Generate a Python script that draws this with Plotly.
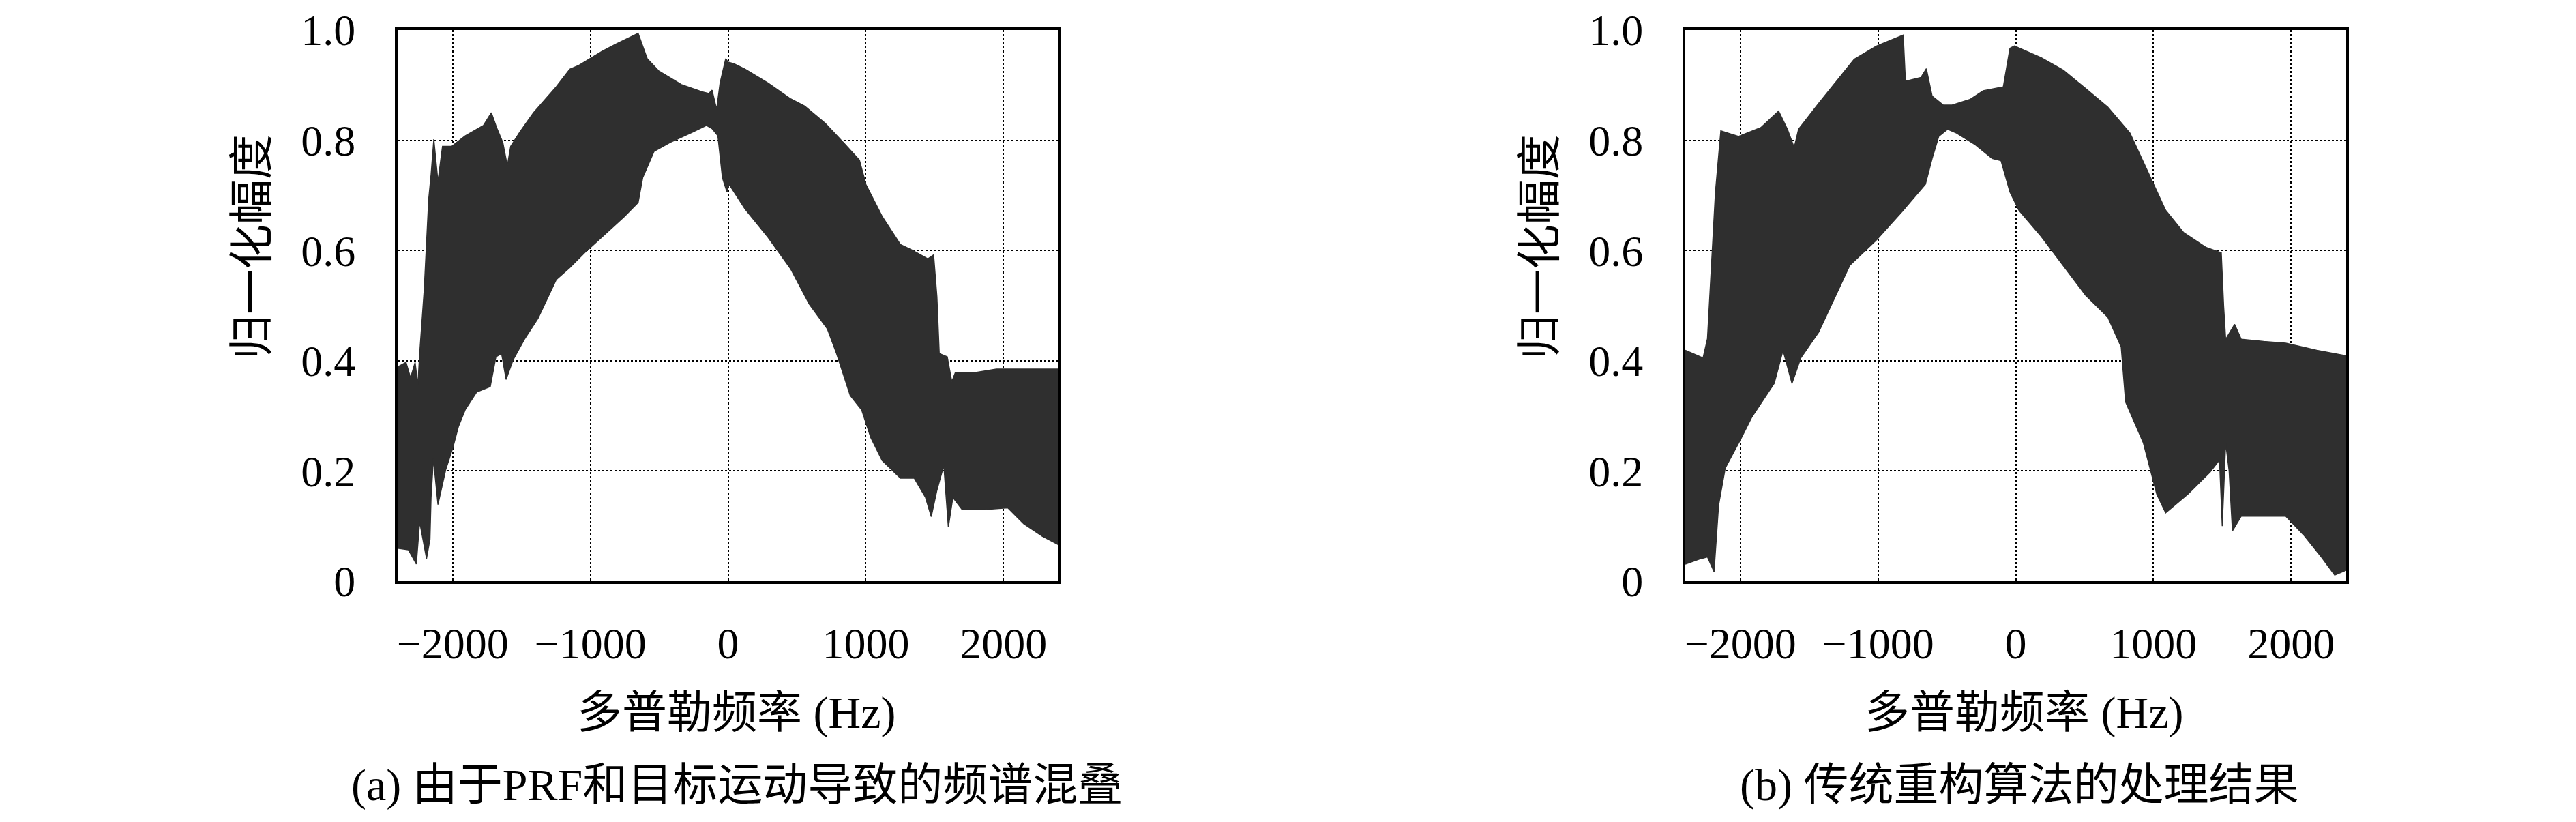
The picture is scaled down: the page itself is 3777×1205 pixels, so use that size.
import plotly.graph_objects as go

# ---------------- data ----------------
# Panel (a): upper / lower envelope of the aliased spectrum (Hz, normalised amplitude)
a_up_f = [-2405, -2339, -2306, -2273, -2253, -2240, -2207, -2174, -2157, -2137, -2107, -2074, -2008,
          -1909, -1777, -1719, -1678, -1636, -1603, -1579, -1512, -1413, -1248, -1149, -1083, -917,
          -818, -653, -587, -504, -339, -190, -140, -116, -83, -58, -17,
          0, 41, 124, 290, 456, 556, 705, 837, 954, 1003, 1119, 1252, 1335, 1451, 1493, 1517, 1534,
          1592, 1625, 1650, 1783, 1949, 2114, 2400]
a_up_v = [0.388, 0.397, 0.369, 0.397, 0.356, 0.413, 0.528, 0.694, 0.738, 0.802, 0.725, 0.789, 0.789,
          0.808, 0.827, 0.85, 0.821, 0.796, 0.754, 0.789, 0.815, 0.85, 0.897, 0.929, 0.936, 0.961,
          0.974, 0.994, 0.948, 0.926, 0.901, 0.888, 0.885, 0.891, 0.856, 0.904, 0.948,
          0.942, 0.939, 0.929, 0.904, 0.875, 0.862, 0.831, 0.796, 0.764, 0.719, 0.662, 0.611, 0.601, 0.585, 0.592, 0.516, 0.413,
          0.407, 0.362, 0.378, 0.378, 0.385, 0.385, 0.385]
a_lo_f = [-2405, -2322, -2264, -2240, -2190, -2165, -2157, -2140, -2107, -2074, -2050, -2000, -1959,
          -1909, -1826, -1727, -1686, -1645, -1612, -1562, -1479, -1380, -1248, -1149, -1033, -917,
          -752, -653, -620, -537, -421, -256, -157, -116, -74, -41, -8,
          8, 124, 290, 456, 589, 721, 788, 887, 970, 1036, 1119, 1252, 1352, 1434, 1476, 1517, 1567,
          1600, 1633, 1700, 1866, 2032, 2148, 2280, 2400]
a_lo_v = [0.06, 0.057, 0.031, 0.108, 0.041, 0.076, 0.152, 0.222, 0.139, 0.178, 0.203, 0.241, 0.28,
          0.311, 0.343, 0.353, 0.407, 0.413, 0.366, 0.401, 0.439, 0.477, 0.547, 0.569, 0.598, 0.624,
          0.662, 0.687, 0.732, 0.78, 0.796, 0.815, 0.827, 0.821, 0.808, 0.732, 0.706,
          0.72, 0.675, 0.624, 0.566, 0.503, 0.458, 0.413, 0.337, 0.311, 0.261, 0.219, 0.187, 0.187, 0.152, 0.117, 0.165, 0.21,
          0.098, 0.152, 0.13, 0.13, 0.133, 0.104, 0.082, 0.066]

# Panel (b): upper / lower envelope after conventional reconstruction
b_up_f = [-2400, -2271, -2239, -2181, -2142, -2013, -1851, -1722, -1658, -1609, -1577, -1431, -1173, -1011,
          -817, -801, -688, -649, -607, -527, -462, -333, -236, -90, -42, -10, 184, 346, 507, 669, 830,
          992, 1089, 1218, 1380, 1493, 1510, 1525, 1590, 1638, 1800, 1961, 2187, 2400]
b_up_v = [0.419, 0.405, 0.44, 0.706, 0.817, 0.807, 0.823, 0.853, 0.82, 0.787, 0.82, 0.867, 0.947, 0.971,
          0.991, 0.907, 0.914, 0.93, 0.88, 0.864, 0.864, 0.874, 0.89, 0.897, 0.967, 0.971, 0.95, 0.927, 0.894, 0.86, 0.813,
          0.726, 0.673, 0.633, 0.606, 0.596, 0.50, 0.439, 0.466, 0.439, 0.435, 0.432, 0.419, 0.409]
b_lo_f = [-2400, -2300, -2239, -2191, -2158, -2110, -1997, -1916, -1754, -1690, -1625, -1561, -1431, -1205,
          -1011, -817, -656, -607, -559, -494, -430, -300, -171, -107, -42, 23, 184, 346, 507, 669,
          766, 798, 927, 1024, 1089, 1250, 1412, 1480, 1500, 1525, 1550, 1574, 1638, 1800, 1961, 2091, 2220, 2317, 2400]
b_lo_v = [0.031, 0.04, 0.044, 0.017, 0.138, 0.205, 0.258, 0.298, 0.359, 0.419, 0.359, 0.405, 0.452, 0.573,
          0.619, 0.673, 0.72, 0.767, 0.807, 0.82, 0.813, 0.793, 0.767, 0.763, 0.706, 0.673, 0.626, 0.573, 0.519, 0.479,
          0.425, 0.325, 0.251, 0.158, 0.124, 0.158, 0.198, 0.22, 0.10, 0.251, 0.20, 0.091, 0.118, 0.118, 0.118, 0.084, 0.044, 0.011, 0.02]

x_ticks = [-2000, -1000, 0, 1000, 2000]
x_ticktext = ["\u22122000", "\u22121000", "0", "1000", "2000"]
y_ticks = [0, 0.2, 0.4, 0.6, 0.8, 1.0]
y_ticktext = ["0", "0.2", "0.4", "0.6", "0.8", "1.0"]

x_title = "多普勒频率 (Hz)"
y_title = "归一化幅度"
captions = ["(a) 由于PRF和目标运动导致的频谱混叠", "(b) 传统重构算法的处理结果"]

# ---------------- figure ----------------
W, H = 3777, 1205
OFF = 8  # default page body margin
FILL = "#2f2f2f"
FONT = "Liberation Serif, Noto Sans CJK SC, serif"

fig = go.Figure()

panels = [(a_lo_f, a_lo_v, a_up_f, a_up_v, "x", "y"),
          (b_lo_f, b_lo_v, b_up_f, b_up_v, "x2", "y2")]
for lo_f, lo_v, up_f, up_v, xa, ya in panels:
    fig.add_trace(go.Scatter(x=lo_f, y=lo_v, mode="lines", line=dict(color=FILL, width=1.5),
                             xaxis=xa, yaxis=ya, showlegend=False, hoverinfo="skip"))
    fig.add_trace(go.Scatter(x=up_f, y=up_v, mode="lines", line=dict(color=FILL, width=1.5),
                             fill="tonexty", fillcolor=FILL,
                             xaxis=xa, yaxis=ya, showlegend=False, hoverinfo="skip"))

px_x = lambda p: (p - OFF) / W
px_y = lambda p: 1 - (p - OFF) / H

plot_top, plot_bot = 44, 852
doms = [(583, 1552), (2471, 3440)]

common_x = dict(range=[-2400, 2400], tickvals=x_ticks, ticktext=x_ticktext,
                showgrid=True, gridcolor="black", gridwidth=2, griddash="3px,3px",
                showline=True, linecolor="black", linewidth=4, mirror=True,
                zeroline=False, ticks="", ticklabelstandoff=32, automargin=False,
                tickfont=dict(family=FONT, size=64, color="black"))
common_y = dict(range=[0, 1.0], tickvals=y_ticks, ticktext=y_ticktext,
                showgrid=True, gridcolor="black", gridwidth=2, griddash="3px,3px",
                showline=True, linecolor="black", linewidth=4, mirror=True,
                zeroline=False, ticks="", ticklabelstandoff=45, automargin=False,
                tickfont=dict(family=FONT, size=64, color="black"))

ydom = [px_y(plot_bot), px_y(plot_top)]
fig.update_layout(
    template="none",
    width=W, height=H, margin=dict(l=0, r=0, t=0, b=0, autoexpand=False),
    paper_bgcolor="white", plot_bgcolor="white",
    xaxis=dict(domain=[px_x(doms[0][0]), px_x(doms[0][1])], anchor="y", **common_x),
    yaxis=dict(domain=ydom, anchor="x", **common_y),
    xaxis2=dict(domain=[px_x(doms[1][0]), px_x(doms[1][1])], anchor="y2", **common_x),
    yaxis2=dict(domain=ydom, anchor="x2", **common_y),
)

ann = []
xt_centers = [1079, 2967]
yt_centers = [369, 2257]
cap_centers = [1080, 2960]
for i in range(2):
    ann.append(dict(text=x_title, x=px_x(xt_centers[i]), y=px_y(1045), xref="paper", yref="paper",
                    xanchor="center", yanchor="middle", showarrow=False,
                    font=dict(family=FONT, size=66, color="black")))
    ann.append(dict(text=y_title, x=px_x(yt_centers[i]), y=px_y(362), xref="paper", yref="paper",
                    xanchor="center", yanchor="middle", showarrow=False, textangle=-90,
                    font=dict(family=FONT, size=66, color="black")))
    ann.append(dict(text=captions[i], x=px_x(cap_centers[i]), y=px_y(1151), xref="paper", yref="paper",
                    xanchor="center", yanchor="middle", showarrow=False,
                    font=dict(family=FONT, size=66, color="black")))
fig.update_layout(annotations=ann)

fig.write_html("out.html")
